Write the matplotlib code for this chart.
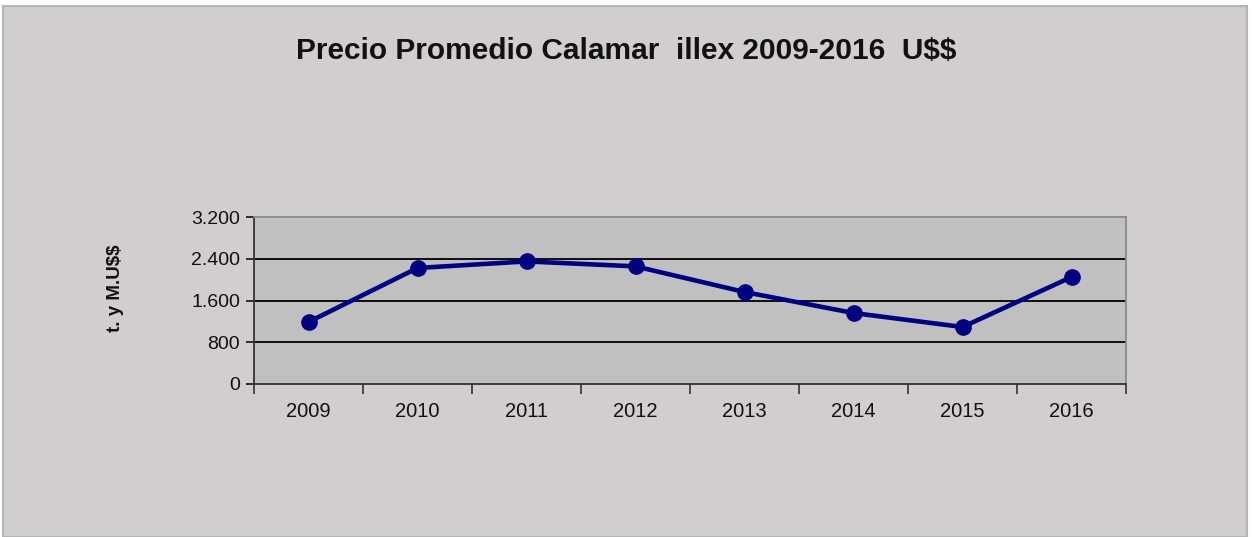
import matplotlib
matplotlib.use("Agg")
import matplotlib.pyplot as plt
from matplotlib.patches import Rectangle
from matplotlib.ticker import FixedLocator, FuncFormatter

plt.rcParams["font.family"] = ["Liberation Sans", "DejaVu Sans"]
plt.rcParams["text.parse_math"] = False

# Precio promedio calamar illex
years = ["2009", "2010", "2011", "2012", "2013", "2014", "2015", "2016"]
prices = [1188, 2223, 2349, 2254, 1763, 1360, 1092, 2050]
y_ticks = [0, 800, 1600, 2400, 3200]

fig = plt.figure(figsize=(12.52, 5.37), dpi=100)
fig.patch.set_facecolor("white")

# fondo gris del grafico con borde
bg = Rectangle((3 / 1252, 0), 1244 / 1252, 1 - 6 / 537, transform=fig.transFigure,
               facecolor="#d0cecf", edgecolor="#b4b4b4", linewidth=1.5, zorder=-1)
fig.patches.append(bg)

ax = fig.add_axes([254 / 1252, 1 - 384 / 537, 872 / 1252, 167 / 537])
ax.set_facecolor("#c0c0c0")

x = list(range(len(years)))
ax.plot(x, prices, color="#000080", linewidth=3.3, marker="o", markersize=11,
        markerfacecolor="#000080", markeredgecolor="#000080", zorder=3, clip_on=False)

ax.set_xlim(-0.5, len(years) - 0.5)
ax.set_ylim(y_ticks[0], y_ticks[-1])
ax.set_xticks(x)
ax.set_xticklabels(years)
ax.xaxis.set_minor_locator(FixedLocator([i - 0.5 for i in range(len(years) + 1)]))
ax.tick_params(axis="x", which="major", length=0, pad=13, labelsize=14.5, colors="#111111")
ax.tick_params(axis="x", which="minor", length=7, width=1.2, direction="out", color="#333333")

ax.set_yticks(y_ticks)
ax.yaxis.set_major_formatter(FuncFormatter(lambda v, p: f"{int(v):,}".replace(",", ".")))
ax.tick_params(axis="y", length=6, width=1.2, direction="out", pad=4, labelsize=14,
               colors="#111111")

for v in y_ticks[1:-1]:
    ax.axhline(v, color="black", linewidth=1.3, zorder=1)

ax.spines["left"].set_color("#333333")
ax.spines["bottom"].set_color("#333333")
ax.spines["left"].set_linewidth(1.3)
ax.spines["bottom"].set_linewidth(1.3)
ax.spines["top"].set_color("#8a8a8a")
ax.spines["right"].set_color("#8a8a8a")
ax.spines["top"].set_linewidth(1.3)
ax.spines["right"].set_linewidth(1.3)

fig.text(626 / 1252, 1 - 51 / 537, "Precio Promedio Calamar  illex 2009-2016  U$$",
         ha="center", va="center", fontsize=21.5, fontweight="bold", color="#111111")
fig.text(116 / 1252, 1 - 288 / 537, "t. y M.U$$", rotation=90, ha="center", va="center",
         fontsize=13.5, fontweight="bold", color="#111111")

fig.savefig("out.png", dpi=100)
plt.close(fig)
